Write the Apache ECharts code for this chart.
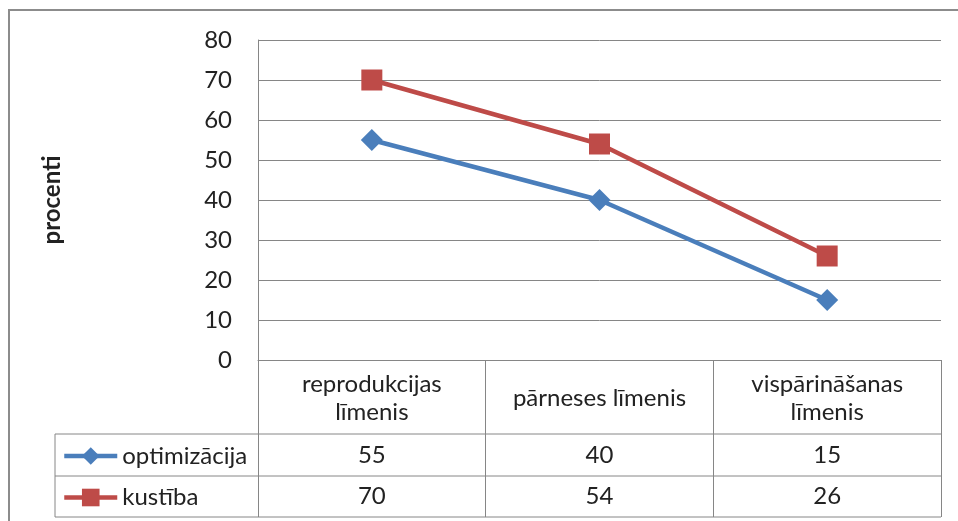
<!DOCTYPE html>
<html>
<head>
<meta charset="utf-8">
<script src="https://cdn.jsdelivr.net/npm/echarts@6/dist/echarts.min.js"></script>
<style>
  html, body { margin: 0; padding: 0; background: #fff; }
  #chart { width: 958px; height: 521px; }
</style>
</head>
<body>
<div id="chart"></div>
<script>
// Levels on the category axis (wrapped the way the data table shows them)
const categories = ['reprodukcijas\nlīmenis', 'pārneses līmenis', 'vispārināšanas\nlīmenis'];
const seriesNames = ['optimizācija', 'kustība'];
const optimizacija = [55, 40, 15];
const kustiba = [70, 54, 26];
const yTicks = [0, 10, 20, 30, 40, 50, 60, 70, 80];

const FONT = 'Lato';
const FS = 24;
const TEXT = '#222';
const GRID = '#868686';
const BLUE = '#4a7ebb';
const RED = '#be4b48';

// plot frame (pixels)
const L = 258, R = 941, T = 40, B = 360;
const ROW1 = 434, ROW2 = 476, ROW3 = 517, KEY_L = 55;

const chart = echarts.init(document.getElementById('chart'), null, { renderer: 'canvas' });

// one hidden-line category axis per table row, labels carry the row values
function tableAxis(values, margin) {
  return {
    type: 'category',
    data: values.map(String),
    position: 'bottom',
    boundaryGap: true,
    axisLine: { show: false },
    axisTick: { show: false },
    splitLine: { show: false },
    axisLabel: {
      margin: margin,
      verticalAlign: 'middle',
      fontFamily: FONT, fontSize: FS, color: TEXT
    }
  };
}

function hLine(y, x1, x2) {
  return { type: 'line', silent: true, shape: { x1: x1, y1: y, x2: x2, y2: y },
           style: { stroke: GRID, lineWidth: 1 } };
}

function legendRow(name, color, centerY) {
  return {
    data: [name], left: 62, top: centerY - 11,
    itemWidth: 53, itemHeight: 22, padding: 0,
    lineStyle: { width: 4.5, color: color },
    textStyle: { fontFamily: FONT, fontSize: FS, color: TEXT }
  };
}

const option = {
  animation: false,
  backgroundColor: '#fff',
  grid: { left: L, right: 958 - R, top: T, bottom: 521 - B, containLabel: false },
  xAxis: [
    {
      type: 'category',
      data: categories,
      boundaryGap: true,
      axisLine: { show: true, lineStyle: { color: GRID, width: 1 } },
      axisTick: { show: true, inside: false, length: ROW3 - B, lineStyle: { color: GRID, width: 1 } },
      splitLine: { show: false },
      axisLabel: {
        margin: (ROW1 - B) / 2 + 1,
        verticalAlign: 'middle',
        lineHeight: 28,
        fontFamily: FONT, fontSize: FS, color: TEXT
      }
    },
    tableAxis(optimizacija, (ROW1 + ROW2) / 2 - B),
    tableAxis(kustiba, (ROW2 + ROW3) / 2 - B)
  ],
  yAxis: {
    type: 'value',
    min: yTicks[0],
    max: yTicks[yTicks.length - 1],
    interval: 10,
    name: 'procenti',
    nameLocation: 'middle',
    nameRotate: 90,
    nameGap: L - 64,
    nameTextStyle: { fontFamily: FONT, fontSize: FS, fontWeight: 'bold', color: TEXT },
    axisLine: { show: true, lineStyle: { color: GRID, width: 1 } },
    axisTick: { show: false },
    splitLine: { show: true, lineStyle: { color: GRID, width: 1 } },
    axisLabel: { margin: 26, fontFamily: FONT, fontSize: FS, color: TEXT }
  },
  legend: [
    legendRow(seriesNames[0], BLUE, (ROW1 + ROW2) / 2),
    legendRow(seriesNames[1], RED, (ROW2 + ROW3) / 2)
  ],
  series: [
    {
      name: seriesNames[0], type: 'line', data: optimizacija,
      symbol: 'diamond', symbolSize: 22,
      lineStyle: { color: BLUE, width: 4.5 },
      itemStyle: { color: BLUE }
    },
    {
      name: seriesNames[1], type: 'line', data: kustiba,
      symbol: 'rect', symbolSize: 21,
      lineStyle: { color: RED, width: 4.5 },
      itemStyle: { color: RED }
    }
  ],
  graphic: [
    // outer chart border
    { type: 'rect', silent: true, shape: { x: 9, y: 10, width: 1000, height: 600 },
      style: { fill: null, stroke: '#8c8c8c', lineWidth: 2 } },
    // data table rules
    hLine(ROW1, KEY_L, R),
    hLine(ROW2, KEY_L, R),
    hLine(ROW3, KEY_L, R),
    { type: 'line', silent: true, shape: { x1: KEY_L, y1: ROW1, x2: KEY_L, y2: ROW3 },
      style: { stroke: GRID, lineWidth: 1 } }
  ]
};

chart.setOption(option);
</script>
</body>
</html>
